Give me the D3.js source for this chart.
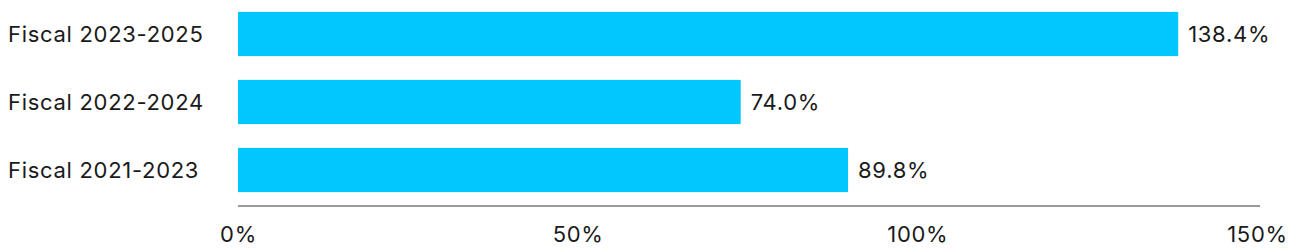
<!DOCTYPE html>
<html>
<head>
<meta charset="utf-8">
<script src="https://cdn.jsdelivr.net/npm/d3@7"></script>
<style>
  body { margin: 0; background: #fff; }
  text { font-family: Inter, "Noto Sans", sans-serif; fill: #1a1a1a; letter-spacing: 0.7px; }
</style>
</head>
<body>
<svg id="chart"></svg>
<script>
const categories = ['Fiscal 2023-2025', 'Fiscal 2022-2024', 'Fiscal 2021-2023'];
const values = [138.4, 74.0, 89.8];
const ticks = [0, 50, 100, 150];

const width = 1300, height = 248;
const margin = {top: 0, right: 43, bottom: 42, left: 238};
const fontSize = '22px';

const svg = d3.select('#chart')
    .attr('width', width)
    .attr('height', height);

const x = d3.scaleLinear()
    .domain([0, 150])
    .range([margin.left, width - margin.right]);

const y = d3.scaleBand()
    .domain(categories)
    .range([0, 204])
    .paddingInner(0.35)
    .paddingOuter(0.175);

const data = categories.map((c, i) => ({cat: c, val: values[i]}));

// bars
svg.append('g')
  .selectAll('rect')
  .data(data)
  .join('rect')
    .attr('x', x(0))
    .attr('y', d => y(d.cat))
    .attr('width', d => x(d.val) - x(0))
    .attr('height', y.bandwidth())
    .attr('fill', '#00C8FF');

// value labels
svg.append('g')
  .selectAll('text')
  .data(data)
  .join('text')
    .attr('x', d => x(d.val) + 10)
    .attr('y', d => y(d.cat) + y.bandwidth() / 2)
    .attr('dy', '0.36em')
    .style('font-size', fontSize)
    .text(d => d.val.toFixed(1) + '%');

// category labels
svg.append('g')
  .selectAll('text')
  .data(data)
  .join('text')
    .attr('x', 8)
    .attr('y', d => y(d.cat) + y.bandwidth() / 2)
    .attr('dy', '0.36em')
    .style('font-size', fontSize)
    .text(d => d.cat);

// x axis
const xAxis = d3.axisBottom(x)
    .tickValues(ticks)
    .tickSize(0)
    .tickPadding(20)
    .tickFormat(d => d + '%');

const xAxisG = svg.append('g')
    .attr('transform', 'translate(0,206)')
    .call(xAxis);

xAxisG.select('.domain')
    .attr('d', `M${x(0)},0H${x(150) + 3}`)
    .attr('stroke', '#999')
    .attr('stroke-width', 2);

xAxisG.selectAll('.tick text')
    .style('font-size', fontSize)
    .style('font-family', 'Inter, "Noto Sans", sans-serif')
    .attr('fill', '#1a1a1a');
</script>
</body>
</html>
